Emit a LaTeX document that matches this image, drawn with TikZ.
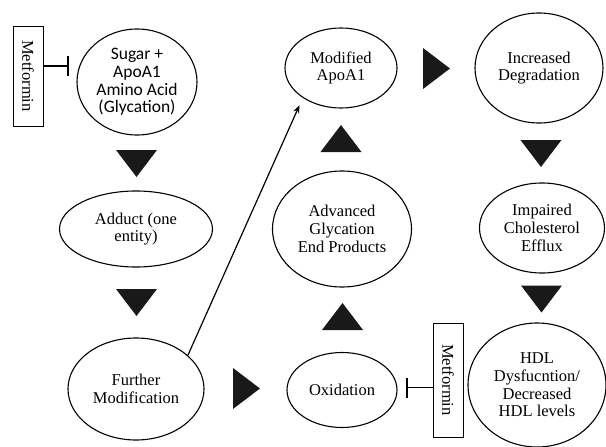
\documentclass[tikz,border=0pt]{standalone}
\usepackage{fontspec}
\setmainfont{Liberation Serif}
\newfontfamily\calfont{Carlito}
\usetikzlibrary{shapes.geometric,arrows.meta}
\tikzset{
  stage/.style={draw, ellipse, line width=1.1pt, inner sep=0pt, align=center,
    font=\fontsize{16.5}{17.7}\selectfont},
  drug/.style={draw, rectangle, line width=1pt, inner sep=0pt, rotate=-90,
    font=\fontsize{16.5}{17.7}\selectfont},
  inhibit/.style={line width=1.4pt, -{Bar[width=20pt,line width=1.6pt]}},
  pics/tridown/.style={code={\fill[black!90] (-20.5,-13.5) -- (20.5,-13.5) -- (0,13.5) -- cycle;}},
  pics/triup/.style={code={\fill[black!90] (-20.5,13.5) -- (20.5,13.5) -- (0,-13.5) -- cycle;}},
  pics/triright/.style={code={\fill[black!90] (-13.5,-20.5) -- (-13.5,20.5) -- (13.5,0) -- cycle;}},
}
\begin{document}
\begin{tikzpicture}[x=1pt,y=-1pt]
\useasboundingbox (0,0) rectangle (606,447);
% stages
\node[stage, minimum width=120pt, minimum height=106pt, font=\calfont\fontsize{17.5}{17.7}\selectfont] (sugar) at (137,82) {Sugar +\\ApoA1\\Amino Acid\\(Glycation)};
\node[stage, minimum width=153pt, minimum height=76pt] (adduct) at (136,229) {Adduct (one\\entity)};
\node[stage, minimum width=136pt, minimum height=102pt] (fm) at (136,389) {Further\\Modification};
\node[stage, minimum width=110pt, minimum height=75pt] (ox) at (342,390) {Oxidation};
\node[stage, minimum width=139pt, minimum height=116pt] (age) at (342,229) {Advanced\\Glycation\\End Products};
\node[stage, minimum width=112pt, minimum height=80pt] (mod) at (341,68) {Modified\\ApoA1};
\node[stage, minimum width=128pt, minimum height=110pt] (deg) at (539,68) {Increased\\Degradation};
\node[stage, minimum width=125pt, minimum height=90pt] (eff) at (542,228) {Impaired\\Cholesterol\\Efflux};
\node[stage, minimum width=138pt, minimum height=124pt] (hdl) at (537,385) {HDL\\Dysfucntion/\\Decreased\\HDL levels};
% metformin boxes
\node[drug, minimum width=100pt, minimum height=30pt] (met1) at (28,76) {Metformin};
\node[drug, minimum width=114pt, minimum height=30pt] (met2) at (448,380) {Metformin};
\coordinate (bar1) at (68.5,66);
\coordinate (bar2) at (406,387.5);
\draw[inhibit] (met1.north |- bar1) -- (bar1);
\draw[inhibit] (met2.south |- bar2) -- (bar2);
% triangles (flow markers)
\pic at (136.5,163.5) {tridown};
\pic at (136.5,302.5) {tridown};
\pic at (246.5,388.5) {triright};
\pic at (342.5,316.5) {triup};
\pic at (341,138.5) {triup};
\pic at (436.5,68.5) {triright};
\pic at (541,153.5) {tridown};
\pic at (541.5,299) {tridown};
% diagonal arrow
\draw[line width=1.2pt, -{Stealth[length=8pt,width=6pt]}, shorten >=8pt] (fm.33) -- (mod.218);
\end{tikzpicture}
\end{document}
